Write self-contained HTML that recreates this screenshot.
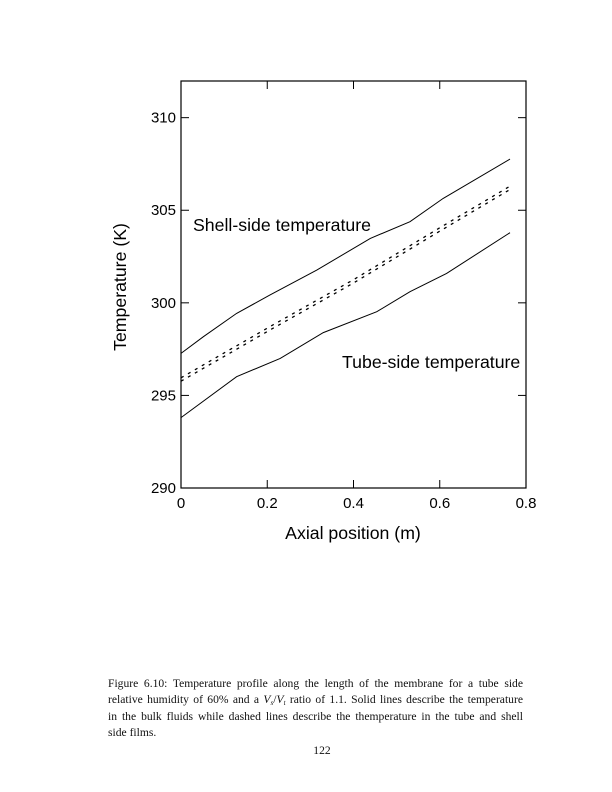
<!DOCTYPE html>
<html><head><meta charset="utf-8"><style>
body{margin:0;background:#fff;width:612px;height:792px;overflow:hidden;position:relative}
#cap{position:absolute;left:108px;top:676px;width:415px;font:11.6px/16.3px "Liberation Serif",serif;color:#111}
#cap div{height:16.3px;text-align:justify;text-align-last:justify}
#cap div.last{text-align-last:left}
#cap sub{font-size:7px;line-height:0;vertical-align:-2px}
#pg{position:absolute;left:0;width:644px;top:744px;text-align:center;font:11.6px "Liberation Serif",serif;color:#111}
</style></head><body>
<svg id="chart" width="612" height="660" style="position:absolute;left:0;top:0" font-family="Liberation Sans, sans-serif"></svg>
<div id="cap">
<div>Figure 6.10: Temperature profile along the length of the membrane for a tube side</div>
<div>relative humidity of 60% and a <i>V<sub>s</sub></i>/<i>V<sub>t</sub></i> ratio of 1.1. Solid lines describe the temperature</div>
<div>in the bulk fluids while dashed lines describe the themperature in the tube and shell</div>
<div class="last">side films.</div>
</div>
<div id="pg">122</div>
<script>
const xTicks=[0,0.2,0.4,0.6,0.8];
const xTickLabels=["0","0.2","0.4","0.6","0.8"];
const yTicks=[290,295,300,305,310];
const yTickLabels=["290","295","300","305","310"];
const shellX=[0,0.052,0.129,0.206,0.315,0.439,0.531,0.608,0.763];
const shellY=[297.27,298.17,299.43,300.42,301.77,303.48,304.38,305.64,307.76];
const tubeX=[0,0.129,0.23,0.33,0.454,0.531,0.616,0.763];
const tubeY=[293.8,296.01,297.0,298.39,299.52,300.6,301.59,303.79];
const filmX=[0,0.206,0.4,0.6,0.763];
const shellFilmY=[295.95,298.71,301.25,304.05,306.3];
const tubeFilmY=[295.77,298.53,301.07,303.87,306.12];
const L=181,R=526,T=81,B=488,X0=0,X1=0.8,Y0=290,Y1=311.98;
const sx=v=>L+(v-X0)/(X1-X0)*(R-L);
const sy=v=>B-(v-Y0)/(Y1-Y0)*(B-T);
const svg=document.getElementById('chart');
const NS='http://www.w3.org/2000/svg';
function mk(t,a,p){const e=document.createElementNS(NS,t);for(const k in a)e.setAttribute(k,a[k]);(p||svg).appendChild(e);return e;}
const frame=mk('rect',{x:L,y:T,width:R-L,height:B-T,fill:'none',stroke:'#000','stroke-width':1.2});


xTicks.forEach((v,i)=>{
  const x=sx(v);
  const t1=mk('line',{x1:x,x2:x,y1:B,y2:B-8,stroke:'#000','stroke-width':1});
  
  
  mk('line',{x1:x,x2:x,y1:T,y2:T+8,stroke:'#000','stroke-width':1});
  const tx=mk('text',{x:x,y:B+20,'text-anchor':'middle','font-size':15});
  tx.textContent=xTickLabels[i];
  
  
});
yTicks.forEach((v,i)=>{
  const y=sy(v);
  const t1=mk('line',{x1:L,x2:L+8,y1:y,y2:y,stroke:'#000','stroke-width':1});
  
  
  mk('line',{x1:R,x2:R-8,y1:y,y2:y,stroke:'#000','stroke-width':1});
  const tx=mk('text',{x:176,y:y+5,'text-anchor':'end','font-size':15});
  tx.textContent=yTickLabels[i];
  
  
});
function series(xs,ys,name,dash){
  const d=xs.map((x,i)=>(i?'L':'M')+sx(x).toFixed(1)+' '+sy(ys[i]).toFixed(1)).join(' ');
  const p=mk('path',{d:d,fill:'none',stroke:'#000','stroke-width':dash?1.3:1,'stroke-dasharray':dash||'none'});
  
  
}
series(shellX,shellY,'shell-side-line');
series(tubeX,tubeY,'tube-side-line');
series(filmX,shellFilmY,'shell-film-line','3 5');
series(filmX,tubeFilmY,'tube-film-line','3 5');
const a=mk('text',{x:193,y:231,'font-size':17.7});a.textContent='Shell-side temperature';


const b=mk('text',{x:342,y:368,'font-size':17.7});b.textContent='Tube-side temperature';


const xl=mk('text',{x:353,y:539,'text-anchor':'middle','font-size':17.7});xl.textContent='Axial position (m)';


const yl=mk('text',{x:0,y:0,'text-anchor':'middle','font-size':17.7,transform:'translate(126,287) rotate(-90)'});yl.textContent='Temperature (K)';


</script>
</body></html>
